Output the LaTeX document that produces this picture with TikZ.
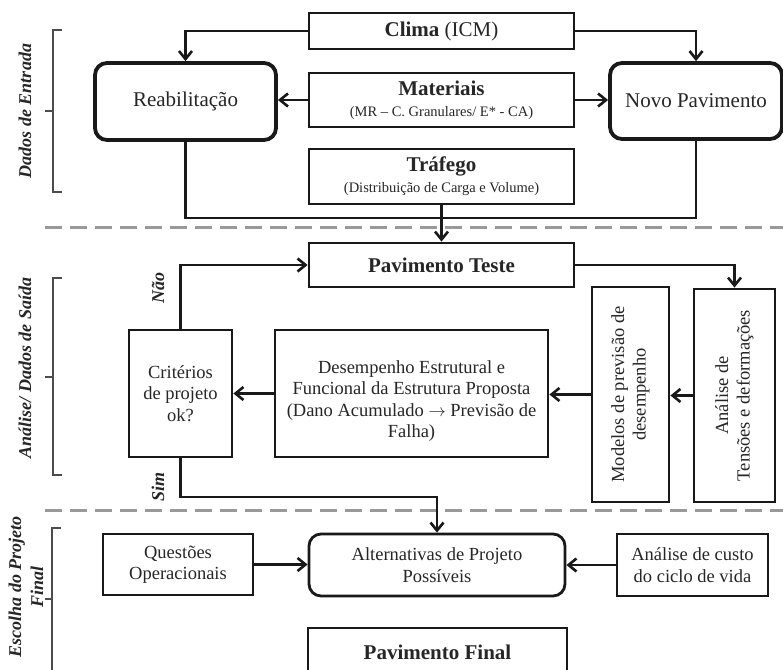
\documentclass[tikz,border=0pt]{standalone}
\usepackage{fontspec}
\setmainfont{Liberation Serif}
\usetikzlibrary{arrows.meta}
\newcommand\szA{\fontsize{21}{24.5}\selectfont}
\newcommand\szB{\fontsize{18.5}{21.5}\selectfont}
\newcommand\szC{\fontsize{14.5}{17}\selectfont}
\newcommand\szL{\fontsize{18}{22}\selectfont}
\begin{document}
\begin{tikzpicture}[x=1pt,y=-1pt,
  box/.style={draw=black!90, line width=2.8pt, fill=white, align=center, inner sep=0pt, text=black!85},
  rbox/.style={box, rounded corners=12pt, line width=3.8pt},
  conn/.style={line width=2.6pt, draw=black!90},
  arr/.style={conn, -{Straight Barb[length=8pt,width=13pt]}},
  sect/.style={draw=gray!80, line width=3pt, dash pattern=on 17pt off 8pt},
  brk/.style={draw=black!70, line width=1.5pt},
  side/.style={rotate=90, font=\szL\bfseries\itshape, align=center, text=black!85},
  ]
\useasboundingbox (0,0) rectangle (783,669);
\fill[white] (0,0) rectangle (783,669);
\clip (0,0) rectangle (783,669);

% section separators
\draw[sect] (45,227) -- (783,227);
\draw[sect] (45,510) -- (783,510);

% side labels and brackets
\node[side] (lab1) at (25,111) {Dados de Entrada};
\node[side] (lab2) at (25,368) {Análise/ Dados de Saída};
\node[side] (lab3) at (26,587) {Escolha do Projeto\\Final};
\draw[brk] (62,30) -- (53,30) -- (53,192) -- (62,192);
\draw[brk] (53,111) -- (45,111);
\draw[brk] (62,278) -- (53,278) -- (53,475) -- (62,475);
\draw[brk] (53,377) -- (45,377);
\draw[brk] (61,528) -- (52,528) -- (52,680);
\draw[brk] (52,599) -- (45,599);

% input data
\node[box, minimum width=265pt, minimum height=36pt] (clima) at (441.5,31) {\szA\textbf{Clima} (ICM)};
\node[box, minimum width=265pt, minimum height=54pt, font=\szA] (mat) at (441.5,100) {\textbf{Materiais}\\[-3.5pt]{\szC(MR – C. Granulares/ E* - CA)}};
\node[box, minimum width=265pt, minimum height=55pt, font=\szA] (traf) at (441.5,176.5) {\textbf{Tráfego}\\[-3.5pt]{\szC(Distribuição de Carga e Volume)}};
\node[rbox, minimum width=181pt, minimum height=77pt] (reab) at (185.5,101.5) {\szA Reabilitação};
\node[rbox, minimum width=172pt, minimum height=76pt] (novo) at (696,101) {\szA Novo Pavimento};

\coordinate (jn) at (441.5,218);
\draw[arr] (clima.west) -| (reab.north);
\draw[arr] (clima.east) -| (novo.north);
\draw[arr] (mat.west) -- (mat.west -| reab.east);
\draw[arr] (mat.east) -- (mat.east -| novo.west);
\draw[conn] (reab.south) |- (jn) -| (novo.south);

% analysis
\node[box, minimum width=265pt, minimum height=44pt] (pteste) at (441.5,265) {\szA\textbf{Pavimento Teste}};
\node[box, minimum width=81pt, minimum height=213pt] (analise) at (734.5,395.5) {};
\node[rotate=90, align=center, font=\szB, text=black!85] (analiseT) at (analise.center) {Análise de\\Tensões e deformações};
\node[box, minimum width=77pt, minimum height=215pt] (modelos) at (630.5,394.5) {};
\node[rotate=90, align=center, font=\szB, text=black!85] (modelosT) at (modelos.center) {Modelos de previsão de\\desempenho};
\node[box, minimum width=273pt, minimum height=127pt] (desemp) at (411.5,393.5) {};
\node[align=center, font=\szB, text=black!85] (desempT) at (411.5,401) {Desempenho Estrutural e\\Funcional da Estrutura Proposta\\(Dano Acumulado $\rightarrow$ Previsão de\\Falha)};
\node[box, minimum width=103pt, minimum height=127pt, font=\szB] (crit) at (180.5,393.5) {Critérios\\de projeto\\ok?};

\draw[arr] (traf.south) -- (pteste.north);
\draw[arr] (pteste.east) -| (analise.north);
\draw[arr] (analise.west) -- (analise.west -| modelos.east);
\draw[arr] (modelos.west) -- (modelos.west -| desemp.east);
\draw[arr] (desemp.west) -- (desemp.west -| crit.east);
\draw[arr] (crit.north) |- (pteste.west);
\node[side] (nao) at (158,288) {Não};
\node[side] (sim) at (158,487) {Sim};

% final choice
\node[box, minimum width=150pt, minimum height=61pt, font=\szB] (quest) at (178,564.5) {Questões\\Operacionais};
\node[box, rounded corners=12pt, minimum width=256pt, minimum height=62pt, font=\szB] (alt) at (437,565) {Alternativas de Projeto\\Possíveis};
\node[box, minimum width=151pt, minimum height=62pt, font=\szB] (custo) at (692.5,565) {Análise de custo\\do ciclo de vida};
\node[box, minimum width=259pt, minimum height=48pt] (pfinal) at (437.5,652) {\szA\textbf{Pavimento Final}};

\coordinate (simc) at (437,497);
\draw[arr] (crit.south) |- (simc) -- (alt.north);
\draw[arr] (quest.east) -- (quest.east -| alt.west);
\draw[arr] (custo.west) -- (custo.west -| alt.east);
\end{tikzpicture}
\end{document}
